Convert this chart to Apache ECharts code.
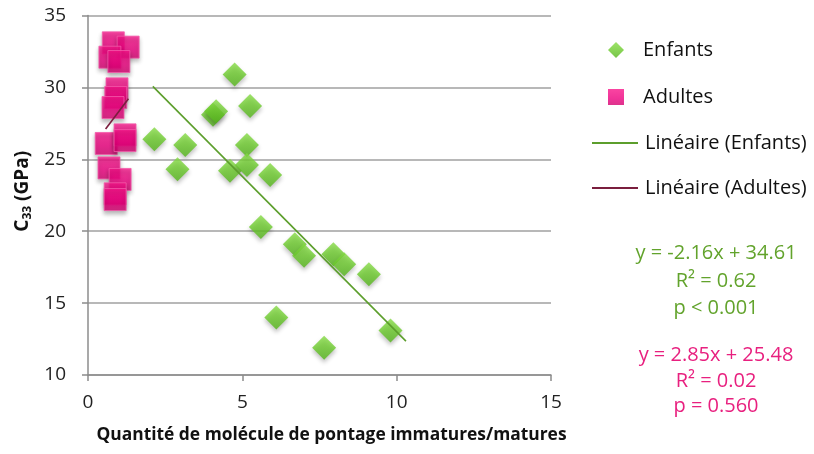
<!DOCTYPE html>
<html>
<head>
<meta charset="utf-8">
<script src="https://cdn.jsdelivr.net/npm/echarts@6/dist/echarts.min.js"></script>
<style>
html,body{margin:0;padding:0;background:#fff;}
#c{width:814px;height:454px;}
</style>
</head>
<body>
<div id="c"></div>
<script>
// ---- data ----
var enfantsX = [4.75, 5.25, 4.05, 4.15, 2.15, 3.15, 5.15, 2.9, 4.6, 5.15, 5.9, 5.6, 6.7, 7.0, 7.95, 8.3, 9.1, 6.1, 7.65, 9.8];
var enfantsY = [30.9, 28.7, 28.1, 28.35, 26.4, 26.0, 26.0, 24.3, 24.2, 24.6, 23.9, 20.3, 19.1, 18.3, 18.4, 17.7, 17.0, 14.0, 11.9, 13.1];
var adultesX = [0.82, 1.3, 0.71, 1.0, 0.94, 0.9, 0.81, 0.59, 1.2, 1.2, 0.68, 1.04, 0.88, 0.88];
var adultesY = [33.1, 32.8, 32.1, 31.8, 29.9, 29.3, 28.6, 26.1, 26.7, 26.3, 24.4, 23.6, 22.6, 22.2];
// trendline end points (as drawn)
var trendEnfantsX = [2.1, 10.3];
var trendEnfantsY = [30.07, 12.36];
var trendAdultesX = [0.57, 1.31];
var trendAdultesY = [27.1, 29.21];
var xTicks = [0, 5, 10, 15];
var yTicks = [10, 15, 20, 25, 30, 35];
var seriesNames = ['Enfants', 'Adultes', 'Linéaire (Enfants)', 'Linéaire (Adultes)'];
var statsEnfants = ['y = -2.16x + 34.61', 'R² = 0.62', 'p < 0.001'];
var statsAdultes = ['y = 2.85x + 25.48', 'R² = 0.02', 'p = 0.560'];

function zip(a, b) { return a.map(function (v, i) { return [v, b[i]]; }); }

var FONT = '"Open Sans", Lato, sans-serif';
var chart = echarts.init(document.getElementById('c'), null, {renderer: 'canvas'});

var greenFill = new echarts.graphic.LinearGradient(0, 0, 0, 1, [
  {offset: 0, color: '#86DB45'}, {offset: 0.5, color: '#6CCB2C'}, {offset: 1, color: '#55B51C'}
]);
var pinkFill = new echarts.graphic.LinearGradient(0, 0, 0, 1, [
  {offset: 0, color: '#F8168A'}, {offset: 0.6, color: '#EC007E'}, {offset: 1, color: '#D4006F'}
]);

var textGraphics = [];
statsEnfants.forEach(function (t, i) {
  textGraphics.push({type: 'text', x: 716, y: [253, 281, 308][i],
    style: {text: t, fill: '#62A32C', font: '20px ' + FONT, textAlign: 'center', textVerticalAlign: 'middle'}});
});
statsAdultes.forEach(function (t, i) {
  textGraphics.push({type: 'text', x: 716, y: [355, 381, 406][i],
    style: {text: t, fill: '#E8207F', font: '20px ' + FONT, textAlign: 'center', textVerticalAlign: 'middle'}});
});

var legendText = {fontFamily: FONT, fontSize: 20, color: '#111'};

chart.setOption({
  backgroundColor: '#fff',
  animation: false,
  grid: {left: 88, top: 15.5, right: 263, bottom: 79, containLabel: false},
  legend: [
    {
      orient: 'vertical', left: 603, top: 35,
      itemWidth: 16, itemHeight: 16, itemGap: 27,
      textStyle: Object.assign({padding: [0, 0, 0, 14]}, legendText),
      data: [
        {name: seriesNames[0], icon: 'diamond'},
        {name: seriesNames[1], icon: 'rect', itemStyle: {borderWidth: 0}}
      ]
    },
    {
      orient: 'vertical', left: 587, top: 128,
      itemWidth: 46, itemHeight: 2, itemGap: 25,
      textStyle: Object.assign({padding: [0, 0, 0, 2]}, legendText),
      data: [
        {name: seriesNames[2], icon: 'rect'},
        {name: seriesNames[3], icon: 'rect'}
      ]
    }
  ],
  xAxis: {
    type: 'value', min: 0, max: 15, interval: 5,
    name: 'Quantité de molécule de pontage immatures/matures',
    nameLocation: 'middle', nameGap: 52,
    nameTextStyle: {fontFamily: FONT, fontSize: 17.4, fontWeight: 'bold', color: '#111', padding: [0, 0, 0, 24]},
    axisLine: {show: true, lineStyle: {color: '#8C8C8C', width: 1.5}},
    axisTick: {show: true, length: 6, lineStyle: {color: '#8C8C8C', width: 1.5}},
    axisLabel: {fontFamily: FONT, fontSize: 19, color: '#222', margin: 18},
    splitLine: {show: false}
  },
  yAxis: {
    type: 'value', min: 10, max: 35, interval: 5,
    name: '{b|C}{s|33}{b| (GPa)}',
    nameLocation: 'middle', nameGap: 52, nameRotate: 90,
    nameTextStyle: {padding: [0, 0, 0, 8], rich: {
      b: {fontFamily: FONT, fontSize: 19, fontWeight: 'bold', color: '#111'},
      s: {fontFamily: FONT, fontSize: 12, fontWeight: 'bold', color: '#111', verticalAlign: 'bottom', padding: [9, 0, 0, 0]}
    }},
    axisLine: {show: true, lineStyle: {color: '#8C8C8C', width: 1.5}},
    axisTick: {show: true, length: 6, lineStyle: {color: '#8C8C8C', width: 1.5}},
    axisLabel: {fontFamily: FONT, fontSize: 19, color: '#222', margin: 22},
    splitLine: {show: true, lineStyle: {color: '#A0A0A0', width: 1.5}}
  },
  graphic: textGraphics,
  series: [
    {
      name: seriesNames[0], type: 'scatter', symbol: 'diamond', symbolSize: 24,
      itemStyle: {color: greenFill, shadowBlur: 4, shadowOffsetY: 3, shadowColor: 'rgba(0,0,0,0.3)'},
      data: zip(enfantsX, enfantsY), z: 2
    },
    {
      name: seriesNames[1], type: 'scatter', symbol: 'rect', symbolSize: 22,
      itemStyle: {color: pinkFill, borderColor: '#F45BAA', borderWidth: 1, shadowBlur: 4, shadowOffsetY: 3, shadowColor: 'rgba(0,0,0,0.3)'},
      data: zip(adultesX, adultesY), z: 2
    },
    {
      name: seriesNames[2], type: 'line', symbol: 'none', showSymbol: false,
      lineStyle: {color: '#5C9E2C', width: 1.6},
      itemStyle: {color: '#5C9E2C'},
      data: zip(trendEnfantsX, trendEnfantsY), z: 3
    },
    {
      name: seriesNames[3], type: 'line', symbol: 'none', showSymbol: false,
      lineStyle: {color: '#7A1E3E', width: 1.6},
      itemStyle: {color: '#7A1E3E'},
      data: zip(trendAdultesX, trendAdultesY), z: 3
    }
  ]
});
</script>
</body>
</html>
